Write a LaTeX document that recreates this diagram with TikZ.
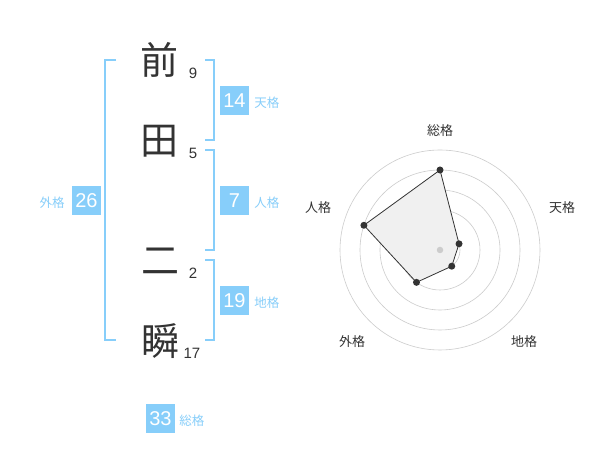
\documentclass[tikz,border=0pt]{standalone}
\usepackage{fontspec}
\setmainfont{Liberation Sans}
\newfontfamily\jpfont{Noto Sans CJK JP}
\usetikzlibrary{positioning}
\definecolor{kakublue}{RGB}{135,206,250}
\definecolor{kakutext}{RGB}{51,51,51}
\definecolor{ringgray}{RGB}{204,204,204}
\definecolor{areagray}{RGB}{240,240,240}
\tikzstyle{kanji} = [font=\jpfont\fontsize{38}{38}\selectfont, text=kakutext, inner sep=0pt]
\tikzstyle{strokes} = [font=\fontsize{15}{15}\selectfont, text=kakutext, inner sep=0pt]
\tikzstyle{score} = [rectangle, minimum size=29pt, inner sep=0pt, fill=kakublue, text=white, font=\fontsize{20}{20}\selectfont]
\tikzstyle{kaku} = [font=\jpfont\fontsize{12.5}{12.5}\selectfont, text=kakublue, inner sep=0pt]
\tikzstyle{bracket} = [draw=kakublue, line width=2pt]
\tikzstyle{ring} = [draw=ringgray, line width=0.6pt]
\tikzstyle{axis} = [font=\jpfont\fontsize{13}{13}\selectfont, text=kakutext, inner sep=0pt]
\tikzstyle{dot} = [circle, fill=kakutext, minimum size=7pt, inner sep=0pt]

\begin{document}
\begin{tikzpicture}[x=1pt,y=1pt]
\fill[white] (0,0) rectangle (600,470);
\useasboundingbox (0,0) rectangle (600,470);

% Name characters
\node (mae) [kanji] at (159,410) {前};
\node (da) [kanji] at (159,329) {田};
\node (ni) [kanji] at (160,209) {二};
\node (shun) [kanji] at (160,129) {瞬};

% Stroke counts
\node (s9) [strokes] at (193,397) {9};
\node (s5) [strokes] at (193,317) {5};
\node (s2) [strokes] at (193,197) {2};
\node (s17) [strokes] at (192,117) {17};

% Brackets
\draw[bracket] (116,410) -- (105,410) -- (105,130) -- (116,130);
\draw[bracket] (205,410) -- (214,410) -- (214,330) -- (205,330);
\draw[bracket] (205,320) -- (214,320) -- (214,220) -- (205,220);
\draw[bracket] (205,210) -- (214,210) -- (214,130) -- (205,130);

% Scores
\node (b14) [score] at (234.5,369.5) {14};
\node (b7) [score] at (234.5,269.5) {7};
\node (b19) [score] at (234.5,169.5) {19};
\node (b26) [score] at (86.5,269.5) {26};
\node (b33) [score] at (160.5,51) {33};

% Score labels
\node (l14) [kaku, right=5pt of b14, yshift=-2pt] {天格};
\node (l7) [kaku, right=5pt of b7, yshift=-2pt] {人格};
\node (l19) [kaku, right=5pt of b19, yshift=-2pt] {地格};
\node (l26) [kaku, left=7pt of b26, yshift=-2pt] {外格};
\node (l33) [kaku, right=4pt of b33, yshift=-2pt] {総格};

% Radar chart
\coordinate (ctr) at (440,220);
\draw[ring] (ctr) circle (20);
\draw[ring] (ctr) circle (40);
\draw[ring] (ctr) circle (60);
\draw[ring] (ctr) circle (80);
\draw[ring] (ctr) circle (100);
\coordinate (pSou) at ([shift={(90:80)}]ctr);
\coordinate (pTen) at ([shift={(18:20)}]ctr);
\coordinate (pChi) at ([shift={(-54:20)}]ctr);
\coordinate (pGai) at ([shift={(-126:40)}]ctr);
\coordinate (pJin) at ([shift={(162:80)}]ctr);
\draw[fill=areagray, draw=kakutext, line width=0.8pt] (pSou) -- (pTen) -- (pChi) -- (pGai) -- (pJin) -- cycle;
\node (dCtr) [circle, fill=ringgray, minimum size=6.5pt, inner sep=0pt] at (ctr) {};
\node (dSou) [dot] at (pSou) {};
\node (dTen) [dot] at (pTen) {};
\node (dChi) [dot] at (pChi) {};
\node (dGai) [dot] at (pGai) {};
\node (dJin) [dot] at (pJin) {};

% Axis labels
\node (aSou) [axis] at (440,339) {総格};
\node (aTen) [axis] at (562,262) {天格};
\node (aJin) [axis] at (318,262) {人格};
\node (aGai) [axis] at (352,128) {外格};
\node (aChi) [axis] at (524,128) {地格};
\end{tikzpicture}
\end{document}
